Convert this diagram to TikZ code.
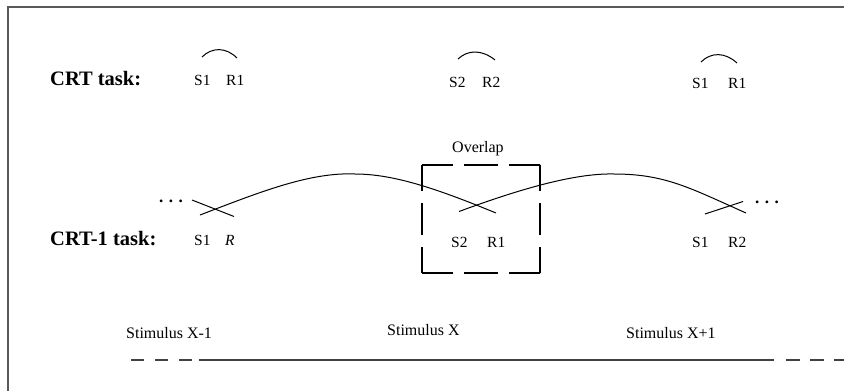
\documentclass[tikz,border=0pt]{standalone}
\usepackage{fontspec}
\setmainfont{Liberation Serif}
\begin{document}
\begin{tikzpicture}[x=1pt,y=-1pt,
  lbl/.style={inner sep=0pt, anchor=base west, font=\fontsize{15.5}{18}\selectfont},
  dots/.style={inner sep=0pt, anchor=base west, font=\fontsize{17}{20}\selectfont\bfseries},
  task/.style={inner sep=0pt, anchor=base west, font=\fontsize{20.5}{24}\selectfont\bfseries},
  stim/.style={inner sep=0pt, anchor=base west, font=\fontsize{16}{19}\selectfont},
  curve/.style={line width=1pt, black},
  boxside/.style={line width=1.1pt, black},
  timeline/.style={line width=1.8pt, black!75},
]
\useasboundingbox (0,0) rectangle (844,391);
% frame
\draw[line width=2pt, black!65] (8,391) -- (8,7) -- (844,7);

% task labels
\node[task] (crt) at (50,85) {CRT task:};
\node[task] (crt1) at (50,245) {CRT-1 task:};

% CRT row
\node[lbl] (s1a) at (194,85) {S1};
\node[lbl] (r1a) at (226,85) {R1};
\node[lbl] (s2b) at (449,87) {S2};
\node[lbl] (r2b) at (482,87) {R2};
\node[lbl] (s1c) at (692,88) {S1};
\node[lbl] (r1c) at (728,88) {R1};
\draw[curve] (202,57) .. controls (212,47) and (226,47) .. (237,58);
\draw[curve] (458,59) .. controls (468,49.5) and (482,49.5) .. (495,60);
\draw[curve] (701,62) .. controls (711,52) and (725,52) .. (737,63);

% CRT-1 row
\node[lbl] (s1d) at (194,245) {S1};
\node[lbl] (rd) at (225,245) {\itshape R};
\node[lbl] (s2e) at (451,247) {S2};
\node[lbl] (r1e) at (487,247) {R1};
\node[lbl] (s1f) at (692,247) {S1};
\node[lbl] (r2f) at (728,247) {R2};

\node[dots] (dl) at (159,202) {.\hspace{5.5pt}.\hspace{5.5pt}.};
\node[dots] (dr) at (755,203) {.\hspace{5.5pt}.\hspace{5.5pt}.};

% crossing curves
\coordinate (a0) at (200,215);
\coordinate (pk1) at (355,174);
\coordinate (a1) at (496,213);
\coordinate (b0) at (459,211.5);
\coordinate (pk2) at (614,174);
\coordinate (b1) at (746,213);
\draw[curve] (a0) .. controls (260,192) and (310,172) .. (pk1)
                  .. controls (395,174) and (440,190) .. (a1);
\draw[curve] (b0) .. controls (520,189) and (575,173) .. (pk2)
                  .. controls (665,174) and (690,188) .. (b1);
\draw[curve] (192,200) -- (234,216.5);
\draw[curve] (705,214) -- (743,201.5);

% overlap box
\node[stim] (ov) at (452,152) {Overlap};
\coordinate (bxa) at (422,165);
\coordinate (bxb) at (540,165);
\coordinate (bxc) at (540,273);
\coordinate (bxd) at (422,273);
\draw[boxside, dash pattern=on 31pt off 11pt on 34pt off 11pt on 31pt off 0pt] (bxa) -- (bxb);
\draw[boxside, dash pattern=on 31pt off 11pt on 34pt off 11pt on 31pt off 0pt] (bxd) -- (bxc);
\draw[boxside, dash pattern=on 26pt off 12pt on 32pt off 12pt on 26pt off 0pt] (bxa) -- (bxd);
\draw[boxside, dash pattern=on 26pt off 12pt on 32pt off 12pt on 26pt off 0pt] (bxb) -- (bxc);

% stimuli
\node[stim] (sx1) at (126,338) {Stimulus X-1};
\node[stim] (sx) at (387,335) {Stimulus X};
\node[stim] (sx2) at (626,338) {Stimulus X+1};

% time line
\coordinate (t0) at (131,360);
\coordinate (t1) at (194,360);
\coordinate (t2) at (199,360);
\coordinate (t3) at (774,360);
\coordinate (t4) at (786,360);
\coordinate (t5) at (844,360);
\draw[timeline, dash pattern=on 13pt off 11pt] (t0) -- (t1);
\draw[timeline] (t2) -- (t3);
\draw[timeline, dash pattern=on 14pt off 10pt] (t4) -- (t5);
\end{tikzpicture}
\end{document}
